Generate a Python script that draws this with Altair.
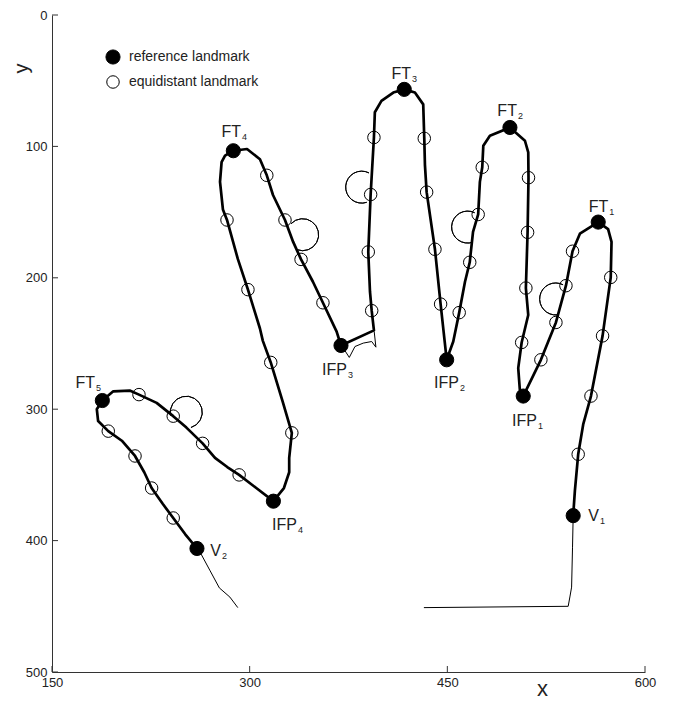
import altair as alt
import numpy as np
import pandas as pd

# ---------------- data (data units) ----------------
x_ticks = [150, 300, 450, 600]
y_ticks = [0, 100, 200, 300, 400, 500]

# thick hand contour, from V2 around the fingers to V1
contour_x = [260, 251, 242, 234, 225.6, 220, 213, 203, 192.7, 185, 184, 188.2,
             196.5, 209, 216, 229.4, 242, 252, 264.3, 273.7, 283, 292, 305, 318,
             326, 330, 330, 332, 325, 316, 310, 307.8, 298.7, 291, 282.8, 279.7, 277.5, 278.7, 281.3, 287.6,
             298, 307.8, 313, 317.7, 326.8, 333, 339, 348, 355.6, 366, 369.3,
             394.3, 392.6, 391.3, 390, 391.8, 394.3, 395, 400, 409, 417.3,
             425.4, 431.7, 432.5, 433, 434.3, 440.6, 444.9, 448, 449.5,
             454.5, 459, 463.4, 467, 469.5, 473.4, 474.7, 476.5, 477.3, 482.3, 497.5,
             508.9, 511.4, 511.6, 510.9, 509.6, 511.4, 506.4, 503.8, 505, 507.6,
             521, 532.4, 540, 545, 550.6, 564.5,
             572, 574.6, 574, 567.8, 559, 553.1, 549.3, 546.8, 545.5]
contour_y = [406, 395, 382.8, 372, 360, 348, 335.6, 324, 316.7, 309, 300, 293.4,
             286.4, 285.8, 288.9, 295.2, 305.3, 314, 326, 337, 344, 350, 360, 370,
             360, 348, 337, 318, 294, 264.4, 248, 238.6, 209, 185.6, 156, 148, 127, 112, 107, 103.3,
             102, 109.8, 122, 137, 156, 172.7, 186, 203, 219, 241, 251.5,
             240, 225, 210.6, 180.3, 136.6, 93.2, 74, 65.4, 59, 56.6,
             59, 68, 93.9, 114, 134.8, 178.3, 220, 248.5, 262.4,
             248.5, 226.5, 203, 188.2, 165, 151.8, 127, 115.9, 99.5, 91.9, 85.6,
             95.7, 104.5, 123.8, 165.4, 207.8, 228.3, 249.2, 268.7, 285, 290,
             262.4, 234, 206, 179.8, 166.4, 157.6,
             163, 172.7, 199.7, 244.2, 290, 311.6, 334.3, 362, 381]

# thin lines: tail below V2, tail below V1 with base line, small cap at IFP3
tail2_x = [260, 263, 270, 277, 285, 291]
tail2_y = [406, 410, 423, 436, 443, 451]
tail1_x = [545.5, 545, 544.3, 543, 541.7, 432.2]
tail1_y = [381, 405, 435.4, 442.9, 450, 451]
cap_x = [372, 375.6, 379.9, 386.2, 392.6, 395.8, 394.5]
cap_y = [255, 260.6, 252.3, 249.7, 248.5, 252.8, 240.9]

# partial circles (centre, visible arc in degrees clockwise from 12 o'clock)
arc_x = [251.9, 340.2, 385.0, 465.4, 532.2]
arc_y = [302.3, 167.2, 131.0, 161.4, 216.1]
arc_from = [258, 313.5, 161.6, 160.5, 174]
arc_to = [523, 561, 387, 386, 387.6]

# reference landmarks
ref_main = ["FT", "FT", "FT", "FT", "FT", "IFP", "IFP", "IFP", "IFP", "V", "V"]
ref_sub = ["1", "2", "3", "4", "5", "1", "2", "3", "4", "1", "2"]
ref_x = [564.5, 497.5, 417.3, 287.6, 188.2, 507.6, 449.5, 369.3, 318, 545.5, 260]
ref_y = [157.6, 85.6, 56.6, 103.3, 293.4, 290, 262.4, 251.5, 370, 381, 406]
# label anchor (junction of main text and subscript)
lab_x = [572.2, 502.8, 422.4, 293.4, 182.6, 518, 458.8, 373.8, 335.9, 565, 278.2]
lab_y = [150, 76.7, 49, 93.2, 283.9, 312.9, 283.8, 273.7, 391.7, 385, 411.4]

# equidistant landmarks
eq_x = [242, 225.6, 213, 192.7,
        216, 242, 264.3, 292,
        332, 316, 298.7, 282.8,
        313, 326.8, 339, 355.6,
        392.6, 390, 391.8, 394.3,
        432.5, 434.3, 440.6, 444.9,
        459, 467, 473.4, 476.5,
        511.6, 510.9, 509.6, 506.4,
        521, 532.4, 540, 545,
        574, 567.8, 559, 549.3]
eq_y = [382.8, 360, 335.6, 316.7,
        288.9, 305.3, 326, 350,
        318, 264.4, 209, 156,
        122, 156, 186, 219,
        225, 180.3, 136.6, 93.2,
        93.9, 134.8, 178.3, 220,
        226.5, 188.2, 151.8, 115.9,
        123.8, 165.4, 207.8, 249.2,
        262.4, 234, 206, 179.8,
        199.7, 244.2, 290, 334.3]

types = ["reference landmark", "equidistant landmark"]

# ---------------- tables ----------------
df_c = pd.DataFrame({"x": contour_x, "y": contour_y, "i": range(len(contour_x))})
thin = []
for name, xs_, ys_ in [("t2", tail2_x, tail2_y), ("t1", tail1_x, tail1_y), ("cap", cap_x, cap_y)]:
    for k, (a, b) in enumerate(zip(xs_, ys_)):
        thin.append({"seg": name, "x": a, "y": b, "i": k})
df_thin = pd.DataFrame(thin)
df_arc = pd.DataFrame({"x": arc_x, "y": arc_y,
                       "t0": np.radians(arc_from), "t1": np.radians(arc_to)})
df_pts = pd.DataFrame({
    "x": ref_x + eq_x,
    "y": ref_y + eq_y,
    "type": [types[0]] * len(ref_x) + [types[1]] * len(eq_x),
})
df_lab = pd.DataFrame({"x": lab_x, "y": lab_y, "main": ref_main, "sub": ref_sub})
df_xt = pd.DataFrame({"x": x_ticks})
df_yt = pd.DataFrame({"y": y_ticks})

# ---------------- chart ----------------
FONT = "Liberation Sans"
AX = "#333333"
W, H = 593, 657
xs = alt.Scale(domain=[150, 600], nice=False, zero=False)
ys = alt.Scale(domain=[0, 500], nice=False, zero=False, reverse=True)

xaxis = alt.Axis(values=x_ticks, title="x", labelFlush=False, labelPadding=4,
                 titleX=490, titleY=23, titleAlign="center", titleBaseline="alphabetic",
                 format="d")
yaxis = alt.Axis(values=y_ticks, title="y", labelFlush=False, labelPadding=5,
                 titleX=-25, titleY=53, titleAngle=270, titleAlign="center",
                 titleBaseline="alphabetic", titleFontSize=20, format="d")


def X():
    return alt.X("x:Q", scale=xs, axis=xaxis)


def Y():
    return alt.Y("y:Q", scale=ys, axis=yaxis)


contour = alt.Chart(df_c).mark_line(color="black", strokeWidth=2.7,
                                    strokeJoin="round", strokeCap="round").encode(
    x=X(), y=Y(), order="i:Q",
)

thin_lines = alt.Chart(df_thin).mark_line(color="black", strokeWidth=1).encode(
    x=X(), y=Y(), detail="seg:N", order="i:Q",
)

arcs = alt.Chart(df_arc).mark_arc(radius=16, radius2=16, filled=False,
                                  stroke="black", strokeWidth=1, color="black").encode(
    x=X(), y=Y(),
    theta=alt.Theta("t0:Q", scale=None),
    theta2=alt.Theta2("t1:Q"),
)

legend = alt.Legend(title=None, orient="none", legendX=53, legendY=34,
                    labelFont=FONT, labelFontSize=14, labelColor="#222222",
                    labelOffset=8, rowPadding=6,
                    symbolStrokeWidth=1, padding=0)

points = alt.Chart(df_pts).mark_point(shape="circle", strokeWidth=1,
                                      opacity=1, fillOpacity=1).encode(
    x=X(), y=Y(),
    fill=alt.Fill("type:N", scale=alt.Scale(domain=types, range=["black", "transparent"]),
                  legend=legend),
    stroke=alt.Stroke("type:N", scale=alt.Scale(domain=types, range=["black", "black"]),
                      legend=legend),
    size=alt.Size("type:N", scale=alt.Scale(domain=types, range=[200, 156]), legend=legend),
)

main_text = alt.Chart(df_lab).mark_text(align="right", baseline="alphabetic",
                                        font=FONT, fontSize=16, color="#222222").encode(
    x=X(), y=Y(), text="main:N",
)
sub_text = alt.Chart(df_lab).mark_text(align="left", baseline="alphabetic", dx=1, dy=3,
                                       font=FONT, fontSize=9, color="#222222").encode(
    x=X(), y=Y(), text="sub:N",
)

xt = alt.Chart(df_xt).mark_rule(color=AX, strokeWidth=1).encode(
    x=X(), y=alt.value(H), y2=alt.value(H - 6),
)
yt = alt.Chart(df_yt).mark_rule(color=AX, strokeWidth=1).encode(
    y=Y(), x=alt.value(0), x2=alt.value(6),
)

chart = alt.layer(arcs, thin_lines, contour, points, main_text, sub_text, xt, yt).properties(
    width=W, height=H,
    padding={"left": 44, "top": 7, "right": 20, "bottom": 28},
    autosize=alt.AutoSizeParams(type="none"),
).configure_view(stroke=None).configure_axis(
    domainColor=AX, domainWidth=1, ticks=False, grid=False,
    labelFont=FONT, labelFontSize=13, labelColor="#222222",
    titleFont=FONT, titleFontSize=22, titleFontWeight="normal", titleColor="#222222",
)

chart.save("out.html", embed_options={"renderer": "svg", "actions": False})
